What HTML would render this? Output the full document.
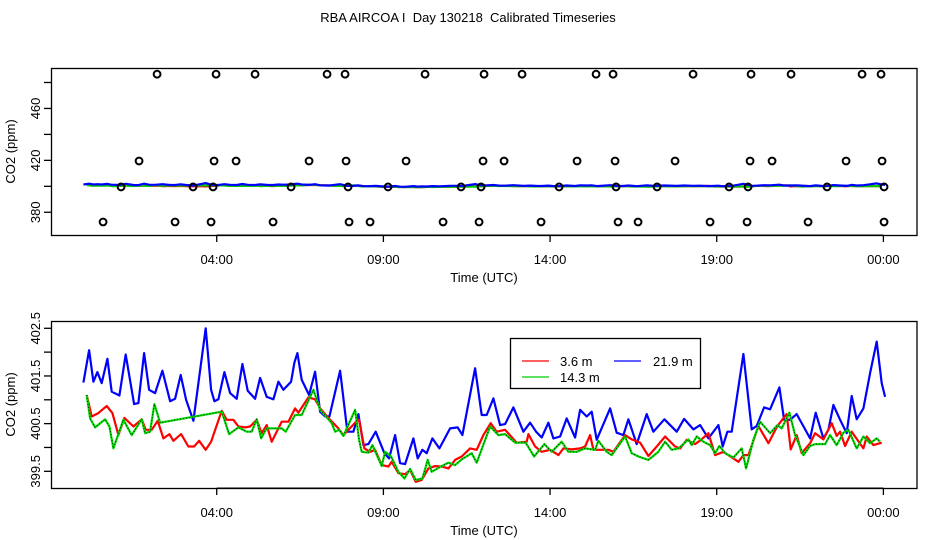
<!DOCTYPE html>
<html><head><meta charset="utf-8"><style>
body{margin:0;background:#fff;width:936px;height:540px;overflow:hidden}
svg{display:block;font-family:"Liberation Sans",sans-serif}
text{white-space:pre}
</style></head><body>
<svg id="chart" width="936" height="540" viewBox="0 0 936 540"></svg>
<script>
const tickHours=[4,9,14,19,24];
const tickLabels=["04:00","09:00","14:00","19:00","00:00"];
const topYTicks=[380,400,420,440,460,480];
const topYLabels=["380","","420","","460",""];
const botYTicks=[399.5,400,400.5,401,401.5,402,402.5];
const botYLabels=["399.5","","400.5","","401.5","","402.5"];
const seriesNames=["3.6 m","14.3 m","21.9 m"];
const blueH=[0,0.17,0.30,0.42,0.55,0.72,0.85,1.08,1.27,1.52,1.65,1.82,1.97,2.15,2.37,2.60,2.75,2.92,3.08,3.30,3.67,3.83,3.93,4.05,4.23,4.40,4.60,4.77,4.93,5.15,5.30,5.50,5.70,5.85,6.00,6.23,6.33,6.42,6.55,6.77,6.95,7.10,7.25,7.38,7.70,7.92,8.10,8.25,8.40,8.55,8.77,9.03,9.17,9.35,9.50,9.65,9.90,10.03,10.17,10.30,10.47,10.68,11.00,11.23,11.37,11.75,11.95,12.10,12.30,12.50,12.65,12.90,13.20,13.40,13.58,13.75,13.95,14.10,14.30,14.50,14.75,14.90,15.10,15.25,15.40,15.80,16.00,16.20,16.35,16.60,16.90,17.10,17.43,17.80,18.02,18.30,18.50,18.75,19.05,19.18,19.32,19.45,19.80,20.05,20.20,20.42,20.60,20.88,21.02,21.20,21.40,21.80,21.97,22.20,22.35,22.50,22.70,22.90,23.05,23.20,23.40,23.60,23.80,23.95,24.05];
const blueV=[401.36,402.04,401.38,401.58,401.35,401.86,401.17,401.09,401.95,400.91,400.93,401.98,401.21,401.14,401.61,400.97,401.02,401.52,401.00,400.56,402.50,401.21,400.97,401.01,401.58,401.14,401.02,401.75,401.19,401.02,401.46,401.06,401.01,401.38,401.21,401.38,401.78,401.98,401.42,401.10,401.59,400.75,400.65,400.65,401.61,400.33,400.33,400.70,400.05,400.07,400.33,399.88,399.77,400.26,399.67,399.65,400.19,399.77,399.95,399.88,400.19,399.98,400.40,400.42,400.26,401.66,400.68,400.68,401.03,400.47,400.49,400.84,400.33,400.52,400.33,400.21,400.52,400.19,400.23,400.61,400.21,400.79,400.65,400.75,400.16,400.82,400.31,400.26,400.59,400.07,400.70,400.33,400.59,400.33,400.60,400.38,400.47,400.19,400.47,400.02,400.33,400.33,401.96,400.38,400.45,400.84,400.80,401.26,400.58,400.58,400.70,400.19,400.73,400.19,400.37,400.89,400.58,400.30,401.08,400.59,400.82,401.56,402.22,401.35,401.06];
const redH=[0.10,0.25,0.45,0.70,0.87,1.05,1.23,1.50,1.75,1.87,2.05,2.23,2.40,2.58,2.70,2.93,3.15,3.32,3.47,3.67,3.83,4.15,4.30,4.50,4.65,4.85,5.00,5.20,5.35,5.50,5.65,5.95,6.15,6.35,6.45,6.75,6.95,7.10,7.40,7.65,7.80,8.15,8.27,8.43,8.60,8.75,8.95,9.15,9.25,9.45,9.65,9.80,9.97,10.15,10.35,10.55,10.75,10.95,11.15,11.35,11.60,11.80,12.00,12.22,12.40,12.65,13.00,13.30,13.35,13.55,13.75,14.00,14.25,14.40,14.65,14.90,15.05,15.20,15.30,15.75,15.90,16.25,16.45,16.70,16.95,17.15,17.45,17.75,17.90,18.10,18.35,18.53,18.75,18.95,19.20,19.65,19.80,19.95,20.25,20.55,20.82,21.10,21.22,21.40,21.55,21.80,21.95,22.20,22.45,22.60,22.70,22.85,23.05,23.40,23.50,23.70,23.95];
const redV=[401.10,400.65,400.72,400.87,400.72,400.26,400.62,400.44,400.59,400.37,400.37,400.56,400.19,400.28,400.14,400.28,400.02,400.02,400.14,399.95,400.12,400.77,400.58,400.58,400.44,400.42,400.44,400.58,400.30,400.47,400.12,400.54,400.54,400.82,400.73,401.05,401.01,400.82,400.58,400.40,400.26,400.52,400.58,399.98,399.91,399.95,399.63,399.60,399.70,399.46,399.44,399.53,399.28,399.32,399.56,399.61,399.60,399.56,399.74,399.81,399.98,399.95,400.26,400.51,400.33,400.37,400.10,400.12,400.28,400.02,399.91,399.95,399.84,399.98,399.96,399.98,400.02,400.26,399.95,399.95,399.91,400.26,400.17,400.10,399.82,399.98,400.23,400.02,399.98,400.16,400.07,400.16,400.30,399.84,399.91,399.70,399.84,399.84,400.45,400.09,400.45,400.70,399.96,400.26,399.88,400.09,400.30,400.17,400.51,400.24,400.33,400.03,400.33,399.98,400.23,400.05,400.10];
const greenH=[0.10,0.20,0.35,0.65,0.78,0.90,1.20,1.45,1.75,1.85,2.00,2.13,2.30,4.15,4.37,4.65,4.90,5.05,5.20,5.33,5.50,5.95,6.07,6.35,6.55,6.90,7.10,7.45,7.55,7.67,7.80,8.15,8.27,8.35,8.55,8.67,8.95,9.05,9.23,9.45,9.63,9.80,9.97,10.17,10.33,10.45,10.75,10.95,11.15,11.35,11.65,11.80,12.20,12.45,12.65,12.95,13.27,13.52,13.83,14.05,14.35,14.55,14.80,15.05,15.35,15.45,15.70,15.85,16.25,16.45,16.65,16.95,17.25,17.45,17.65,17.85,18.15,18.25,18.40,18.60,18.80,18.95,19.08,19.25,19.50,19.75,19.88,20.10,20.30,20.60,20.82,20.95,21.18,21.35,21.60,21.80,21.95,22.25,22.40,22.60,22.80,22.95,23.20,23.40,23.60,23.80,23.90];
const greenV=[401.10,400.61,400.42,400.59,400.44,399.98,400.58,400.26,400.59,400.30,400.33,400.91,400.52,400.75,400.28,400.42,400.33,400.33,400.59,400.19,400.40,400.40,400.33,400.68,400.68,401.21,400.79,400.51,400.33,400.37,400.24,400.79,400.16,399.91,399.89,400.05,399.61,399.91,399.81,399.49,399.35,399.55,399.32,399.35,399.74,399.49,399.61,399.68,399.63,399.75,399.88,399.68,400.44,400.26,400.28,400.10,400.10,399.81,400.07,399.91,400.12,399.91,399.91,399.98,399.95,400.14,399.91,399.84,400.23,399.88,399.81,399.74,399.91,400.12,399.95,399.98,400.17,400.05,400.23,400.12,400.05,399.88,400.03,399.88,399.79,399.98,399.56,400.16,400.54,400.30,400.47,400.40,400.73,400.26,399.84,400.03,400.07,400.07,400.26,400.05,400.31,400.37,399.98,400.23,400.09,400.19,400.12];
const flagH=[2.21,3.98,5.15,7.31,7.85,10.25,12.02,13.16,15.38,15.89,18.29,20.03,21.23,23.36,23.93,1.67,3.92,4.58,6.77,7.88,9.68,11.99,12.62,14.81,15.95,17.75,20.0,20.66,22.88,23.96,1.13,3.29,3.89,6.23,7.94,9.14,11.33,11.93,14.27,15.98,17.21,19.37,19.94,22.31,24.02,0.59,2.75,3.83,5.69,7.97,8.60,10.79,11.87,13.73,16.04,16.64,18.80,19.91,21.74,24.02];
const flagV=[486.4,486.4,486.4,486.4,486.4,486.4,486.4,486.4,486.4,486.4,486.4,486.4,486.4,486.4,486.4,419.5,419.5,419.5,419.5,419.5,419.5,419.5,419.5,419.5,419.5,419.5,419.5,419.5,419.5,419.5,399.5,399.5,399.5,399.5,399.5,399.5,399.5,399.5,399.5,399.5,399.5,399.5,399.5,399.5,399.5,372.5,372.5,372.5,372.5,372.5,372.5,372.5,372.5,372.5,372.5,372.5,372.5,372.5,372.5,372.5];

const NS="http://www.w3.org/2000/svg";
const svg=document.getElementById('chart');
function mk(tag,attrs,parent){const e=document.createElementNS(NS,tag);for(const k in attrs)e.setAttribute(k,attrs[k]);(parent||svg).appendChild(e);return e;}
const xS=h=>83.4+h*33.333;
const yTop=v=>186.3-(v-400)*1.2975;
const yBot=v=>471.3-(v-399.5)*47.67;

let t=mk('text',{x:468,y:22,'text-anchor':'middle','font-size':13});t.textContent="RBA AIRCOA I  Day 130218  Calibrated Timeseries";



function panel(name,top,bottom,yF,yTicks,yLabels){
  const g=mk('g',{});
  
  
  const box=mk('rect',{x:51.5,y:top+.5,width:865.5,height:bottom-top,fill:'none',stroke:'#000','stroke-width':1.3},g);
  
  
  const xa=mk('g',{},g);
  
  
  mk('line',{x1:xS(tickHours[0]),x2:xS(tickHours[tickHours.length-1]),y1:bottom,y2:bottom,stroke:'#000'},xa);
  tickHours.forEach((h,i)=>{
    mk('line',{x1:xS(h),x2:xS(h),y1:bottom,y2:bottom+7,stroke:'#000','stroke-width':1.3},xa);
    const l=mk('text',{x:xS(h),y:bottom+29,'text-anchor':'middle','font-size':13},xa);l.textContent=tickLabels[i];
    
    
  });
  const xt=mk('text',{x:484,y:bottom+47,'text-anchor':'middle','font-size':13},g);xt.textContent="Time (UTC)";
  
  
  const ya=mk('g',{},g);
  
  
  yTicks.forEach((v,i)=>{
    const y=yF(v);
    mk('line',{x1:44,x2:51,y1:y,y2:y,stroke:'#000','stroke-width':1.3},ya);
    if(yLabels[i]){const l=mk('text',{x:0,y:0,'text-anchor':'middle','font-size':13,transform:`translate(40,${y}) rotate(-90)`},ya);l.textContent=yLabels[i];
    
    }
  });
  const yt=mk('text',{x:0,y:0,'text-anchor':'middle','font-size':13,transform:`translate(15,${(top+bottom)/2}) rotate(-90)`},g);yt.textContent="CO2 (ppm)";
  
  
  return g;
}
function line(g,H,V,yF,color,name,w){
  const d=H.map((h,i)=>(i?'L':'M')+xS(h).toFixed(1)+','+yF(V[i]).toFixed(1)).join('');
  const p=mk('path',{d:d,fill:'none',stroke:color,'stroke-width':w,'stroke-linejoin':'round'},g);
  
  
  return p;
}
const p1=panel('top-panel',68,235,yTop,topYTicks,topYLabels);
line(p1,redH,redV,yTop,'#f00','series-3-6m-top',2.2);
line(p1,greenH,greenV,yTop,'#0c0','series-14-3m-top',2.2);
line(p1,blueH,blueV,yTop,'#00f','series-21-9m-top',2.2);
flagH.forEach((h,i)=>{
  const c=mk('circle',{cx:xS(h),cy:yTop(flagV[i]),r:3.4,fill:'none',stroke:'#000','stroke-width':2},p1);
  
  
});
const p2=panel('bottom-panel',321,488,yBot,botYTicks,botYLabels);
line(p2,blueH,blueV,yBot,'#00f','series-21-9m',2.2);
line(p2,redH,redV,yBot,'#f00','series-3-6m',2.2);
line(p2,greenH,greenV,yBot,'#0d0','series-14-3m',2.2);
const dots=line(p2,greenH,greenV,yBot,'#000','series-14-3m-dots',0.8);dots.setAttribute('stroke-dasharray','1,2');

const lg=mk('g',{});


mk('rect',{x:510.5,y:338.5,width:190,height:50,fill:'#fff',stroke:'#000','stroke-width':1.3},lg);
const legItems=[[522,361,'#f00',seriesNames[0]],[614,361,'#00f',seriesNames[2]],[522,377,'#0c0',seriesNames[1]]];
legItems.forEach(it=>{
  const e=mk('g',{},lg);
  
  
  mk('line',{x1:it[0],x2:it[0]+27,y1:it[1],y2:it[1],stroke:it[2],'stroke-width':1.2},e);
  const tx=mk('text',{x:it[0]+(it[3]==='21.9 m'?39:38),y:it[1]+5,'font-size':13},e);tx.textContent=it[3];
});
</script>
</body></html>
